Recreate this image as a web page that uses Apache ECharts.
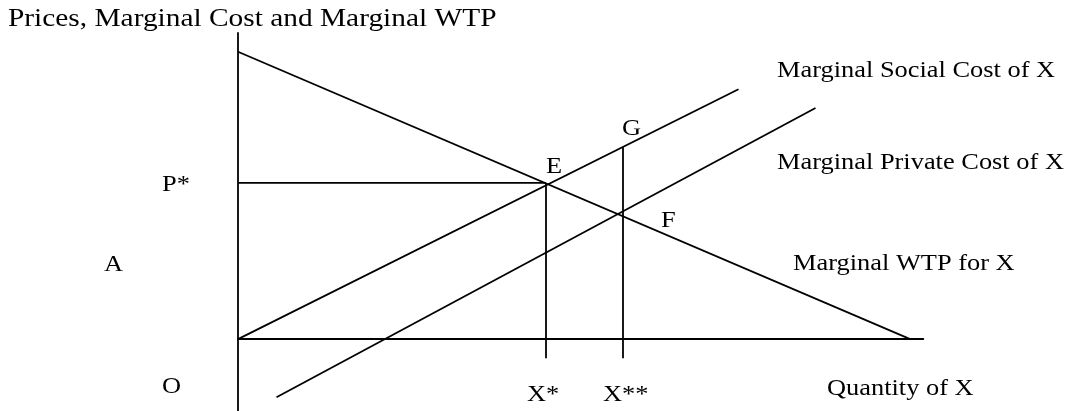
<!DOCTYPE html>
<html>
<head>
<meta charset="utf-8">
<script src="https://cdn.jsdelivr.net/npm/echarts@6/dist/echarts.min.js"></script>
<style>
html, body { margin: 0; padding: 0; background: #fff; }
#externalityChart { width: 1069px; height: 411px; }
</style>
</head>
<body>
<div id="externalityChart"></div>
<script>
// quantity / price pairs
const wtpCurve = [[0, 92], [87.3, 0]]
const socialCostCurve = [[0, 0], [65, 80]]
const privateCostCurve = [[5, -18.6], [75, 74]]
const pStarLine = [[0, 50], [40, 50]]
const xStarLine = [[40, -6.1], [40, 50]]
const xStarStarLine = [[50, -6.1], [50, 61.5]]
const quantityRange = [0, 89]
const priceRange = [-23, 98]

const FONT = '"Liberation Serif", "Times New Roman", serif'

const initExternalityChart = () => {
    const myChart = echarts.init(document.getElementById('externalityChart'), null, { renderer: 'canvas' })

    const segment = (name, data) => ({
        name: name,
        type: 'line',
        data: data,
        symbol: 'none',
        silent: true,
        lineStyle: { color: '#000', width: 1.8 }
    })

    // the source text is slightly stretched sideways
    const text = (str, x, y, size, stretch) => ({
        type: 'text',
        x: x,
        y: y,
        scaleX: stretch || 1.1,
        silent: true,
        style: {
            text: str,
            font: (size || 24) + 'px ' + FONT,
            fill: '#000',
            verticalAlign: 'middle'
        }
    })

    const option = {
        animation: false,
        grid: { left: 238, right: 145.7, top: 33, bottom: 0 },
        xAxis: {
            type: 'value',
            min: quantityRange[0],
            max: quantityRange[1],
            axisLine: { show: true, onZero: true, lineStyle: { color: '#000', width: 1.8 } },
            axisTick: { show: false },
            axisLabel: { show: false },
            splitLine: { show: false }
        },
        yAxis: {
            type: 'value',
            min: priceRange[0],
            max: priceRange[1],
            axisLine: { show: true, lineStyle: { color: '#000', width: 1.8 } },
            axisTick: { show: false },
            axisLabel: { show: false },
            splitLine: { show: false }
        },
        series: [
            segment('Marginal WTP for X', wtpCurve),
            segment('Marginal Social Cost of X', socialCostCurve),
            segment('Marginal Private Cost of X', privateCostCurve),
            segment('P*', pStarLine),
            segment('X*', xStarLine),
            segment('X**', xStarStarLine)
        ],
        graphic: [
            text('Prices, Marginal Cost and Marginal WTP', 8, 19, 26, 1.13),
            text('Marginal Social Cost of X', 777, 71),
            text('Marginal Private Cost of X', 777, 163),
            text('Marginal WTP for X', 793, 264),
            text('Quantity of X', 827, 389),
            text('P*', 162, 185),
            text('A', 104, 265),
            text('O', 162, 387),
            text('E', 546, 167),
            text('G', 622, 129),
            text('F', 661, 221),
            text('X*', 527, 395),
            text('X**', 603, 395)
        ]
    }

    myChart.setOption(option)
}

initExternalityChart()
</script>
</body>
</html>
